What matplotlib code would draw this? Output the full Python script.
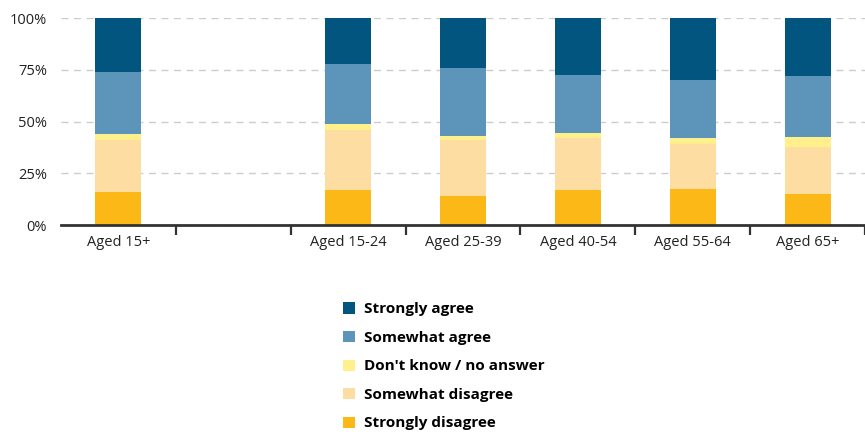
import numpy as np
import matplotlib.pyplot as plt
from matplotlib.patches import Patch

groups = ["Aged 15+", "", "Aged 15-24", "Aged 25-39", "Aged 40-54", "Aged 55-64", "Aged 65+"]

strongly_disagree = [16, 0, 17, 14, 17, 17.4, 15]
somewhat_disagree = [25, 0, 29, 27, 25, 21.7, 22.7]
dont_know = [3, 0, 3, 2, 2.5, 2.9, 4.8]
somewhat_agree = [30, 0, 29, 33, 28, 28, 29.5]
strongly_agree = [26, 0, 22, 24, 27.5, 30, 28]

series = [
    ("Strongly disagree", strongly_disagree, "#fbb817"),
    ("Somewhat disagree", somewhat_disagree, "#fddda1"),
    ("Don't know / no answer", dont_know, "#fff08c"),
    ("Somewhat agree", somewhat_agree, "#5d95ba"),
    ("Strongly agree", strongly_agree, "#02557f"),
]

plt.rcParams['font.family'] = ['Open Sans', 'DejaVu Sans']

fig = plt.figure(figsize=(8.65, 4.32), dpi=100)
ax = fig.add_axes([0.0705, 0.479, 0.9295, 0.479])

x = np.arange(len(groups))
bottom = np.zeros(len(groups))
for name, vals, col in series:
    vals = np.array(vals, dtype=float)
    ax.bar(x, vals, 0.4, bottom=bottom, color=col, label=name, zorder=3)
    bottom += vals

ax.set_xlim(-0.5, len(groups) - 0.5)
ax.set_ylim(0, 100)
ax.set_yticks([0, 25, 50, 75, 100])
ax.set_yticklabels(["0%", "25%", "50%", "75%", "100%"], fontsize=10.5, color="#222222")
ax.tick_params(axis="y", length=0, pad=10)
ax.yaxis.grid(True, color="#cccccc", linestyle=(0, (5, 4)), linewidth=1, zorder=0)

ax.set_xticks(x)
ax.set_xticklabels(groups, fontsize=10.5, color="#222222")
ax.tick_params(axis="x", which="major", length=0, pad=7)
ax.set_xticks(np.arange(len(groups)) + 0.5, minor=True)
ax.tick_params(axis="x", which="minor", length=7, width=1.6, color="#333333", direction="out")

for s in ["top", "right", "left"]:
    ax.spines[s].set_visible(False)
ax.spines["bottom"].set_color("#333333")
ax.spines["bottom"].set_linewidth(2)
ax.spines["bottom"].set_zorder(4)

handles = [Patch(facecolor=col, label=name) for name, vals, col in series][::-1]
fig.legend(handles=handles, loc="upper left", bbox_to_anchor=(0.397, 0.300),
           frameon=False, handlelength=0.75, handleheight=0.75, handletextpad=0.6,
           labelspacing=0.95, borderaxespad=0, borderpad=0,
           prop={"weight": "bold", "size": 11})

fig.savefig("out.png", dpi=100)
